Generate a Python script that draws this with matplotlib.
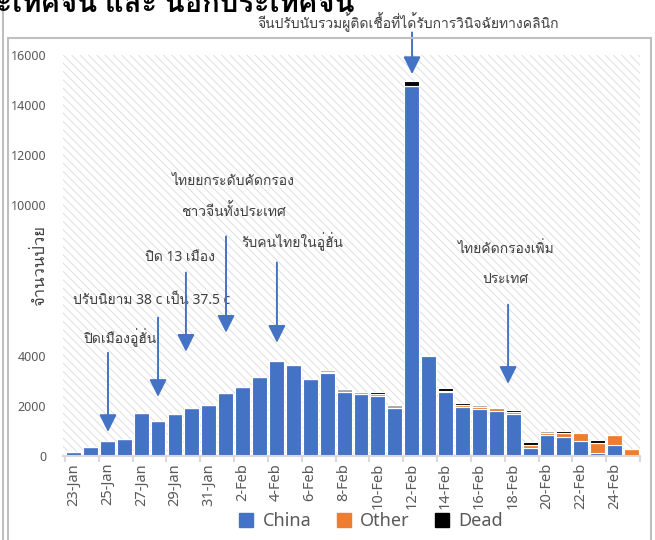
import matplotlib
matplotlib.use('Agg')
import matplotlib.pyplot as plt
from matplotlib import font_manager, ft2font
from matplotlib.patches import Rectangle, Patch
import numpy as np

# find a font that can draw Thai, none of the named ones can
thai_font = None
for f in font_manager.fontManager.ttflist:
    try:
        if 0x0E01 in ft2font.FT2Font(f.fname).get_charmap():
            thai_font = f.name
            break
    except Exception:
        pass

fams = ['Noto Sans']
if thai_font:
    fams.append(thai_font)
fams.append('DejaVu Sans')
plt.rcParams['font.family'] = fams
plt.rcParams['hatch.linewidth'] = 0.6

# data
dates = ['23-Jan', '24-Jan', '25-Jan', '26-Jan', '27-Jan', '28-Jan', '29-Jan', '30-Jan',
         '31-Jan', '1-Feb', '2-Feb', '3-Feb', '4-Feb', '5-Feb', '6-Feb', '7-Feb', '8-Feb',
         '9-Feb', '10-Feb', '11-Feb', '12-Feb', '13-Feb', '14-Feb', '15-Feb', '16-Feb',
         '17-Feb', '18-Feb', '19-Feb', '20-Feb', '21-Feb', '22-Feb', '23-Feb', '24-Feb',
         '25-Feb']
china = [170, 370, 610, 690, 1700, 1400, 1680, 1920, 2030, 2530, 2760, 3160, 3800, 3620,
         3090, 3320, 2570, 2490, 2410, 1930, 14750, 3980, 2570, 1950, 1890, 1810, 1670,
         330, 830, 760, 600, 130, 440, 0]
other = [0, 0, 0, 0, 0, 0, 0, 0, 0, 0, 0, 0, 0, 0, 0, 40, 0, 0, 50, 0, 30, 40, 20, 70,
         60, 100, 80, 100, 80, 150, 310, 380, 390, 280]
rest = [0, 0, 0, 0, 0, 0, 0, 0, 0, 0, 0, 0, 30, 40, 0, 60, 90, 50, 0, 100, 0, 0, 0, 0,
        70, 0, 0, 0, 90, 0, 60, 0, 0, 0]
dead = [0, 0, 0, 0, 0, 0, 0, 0, 0, 0, 0, 0, 0, 0, 0, 0, 0, 0, 90, 0, 180, 0, 110, 90,
        0, 60, 80, 110, 0, 90, 0, 120, 0, 0]

# (text, x, y) and arrows (x, y_start, y_tip) in data units
notes = [('ปิดเมืองอู่ฮั่น', 2.75, 4720),
         ('ปรับนิยาม 38 c เป็น 37.5 c', 4.64, 6200),
         ('ปิด 13 เมือง', 6.3, 7920),
         ('ไทยยกระดับคัดกรอง', 9.45, 10960),
         ('ชาวจีนทั้งประเทศ', 9.45, 9720),
         ('รับคนไทยในอู่ฮั่น', 12.92, 8560),
         ('จีนปรับนับรวมผู้ติดเชื้อที่ได้รับการวินิจฉัยทางคลินิก', 19.78, 17300),
         ('ไทยคัดกรองเพิ่ม', 25.58, 8240),
         ('ประเทศ', 25.52, 7040)]
arrows = [(2.04, 4120, 960), (5.0, 5520, 2360), (6.65, 7320, 4160), (9.02, 8760, 4920),
          (12.03, 7720, 4520), (20.02, 16900, 15240), (25.7, 6040, 2880)]

blue = '#4472C4'
orange = '#ED7D31'
grey_txt = '#595959'

fig = plt.figure(figsize=(6.55, 5.4), dpi=100)
ax = fig.add_axes([63/655, 1 - 456/540, 577/655, 401/540])

ax.add_patch(Rectangle((0, 0), 1, 1, transform=ax.transAxes, facecolor='white',
                       edgecolor='#DADADA', hatch='\\\\\\\\', lw=0, zorder=0))

x = np.arange(len(dates))
china = np.array(china)
other = np.array(other)
rest = np.array(rest)
dead = np.array(dead)
w = 0.88
ax.bar(x, china, w, color=blue, edgecolor='white', lw=0.8, zorder=2)
ax.bar(x, other, w, bottom=china, color=orange, edgecolor='white', lw=0.8, zorder=2)
ax.bar(x, rest, w, bottom=china + other, color='#A5A5A5', edgecolor='white', lw=0.8, zorder=2)
ax.bar(x, dead, w, bottom=china + other + rest, color='black', edgecolor='white', lw=0.8, zorder=2)

ax.set_xlim(-0.62, 33.5)
ax.set_ylim(0, 16000)
for s in ['top', 'right', 'left']:
    ax.spines[s].set_visible(False)
ax.spines['bottom'].set_color('#D9D9D9')
ax.spines['bottom'].set_linewidth(1.5)

ax.set_xticks(x[::2])
ax.set_xticklabels(dates[::2], rotation=90, fontsize=10.5, color=grey_txt)
ax.set_xticks(np.arange(-0.5, 34, 2), minor=True)
ax.tick_params(axis='x', which='major', length=0, pad=5)
ax.tick_params(axis='x', which='minor', length=4, width=1.5, color='#D9D9D9')

yt = np.arange(0, 16001, 2000)
ax.set_yticks(yt)
ax.set_yticklabels(['' if v in (6000, 8000) else str(v) for v in yt], fontsize=9, color=grey_txt)
ax.tick_params(axis='y', length=0, pad=12)

fig.text(40/655, 1 - 265/540, 'จำนวนป่วย', rotation=90, ha='center', va='center',
         fontsize=12, color='#404040')

for t, tx, ty in notes:
    ax.text(tx, ty, t, ha='center', va='center', fontsize=10, color='#404040', clip_on=False)
for ax_x, y0, y1 in arrows:
    ax.annotate('', xy=(ax_x, y1), xytext=(ax_x, y0), annotation_clip=False,
                arrowprops=dict(arrowstyle='-|>,head_length=0.7,head_width=0.35',
                                color=blue, lw=1.4, mutation_scale=15, shrinkA=0, shrinkB=0))

# cut-off title at the very top
fig.text(355/655, 1 - 12/540, 'ผู้ป่วยในประเทศจีน และ นอกประเทศจีน', ha='right', va='baseline',
         fontsize=21, fontweight='bold', color='black')

# outer chart frame
for xs, ys in [([8, 651], [38, 38]), ([8, 8], [38, 540]), ([3, 3], [0, 540]), ([651, 651], [38, 540])]:
    fig.add_artist(plt.Line2D([v/655 for v in xs], [1 - v/540 for v in ys],
                              transform=fig.transFigure, color='#BFBFBF', lw=1.5))

handles = [Patch(color=blue), Patch(color=orange), Patch(color='black')]
leg = fig.legend(handles, ['China', 'Other', 'Dead'], loc='center', ncol=3,
                 bbox_to_anchor=(371/655, 1 - 521/540), frameon=False, fontsize=13,
                 handlelength=0.8, handleheight=0.8, columnspacing=1.4, handletextpad=0.5)
for t in leg.get_texts():
    t.set_color(grey_txt)

fig.savefig('out.png', dpi=100)
